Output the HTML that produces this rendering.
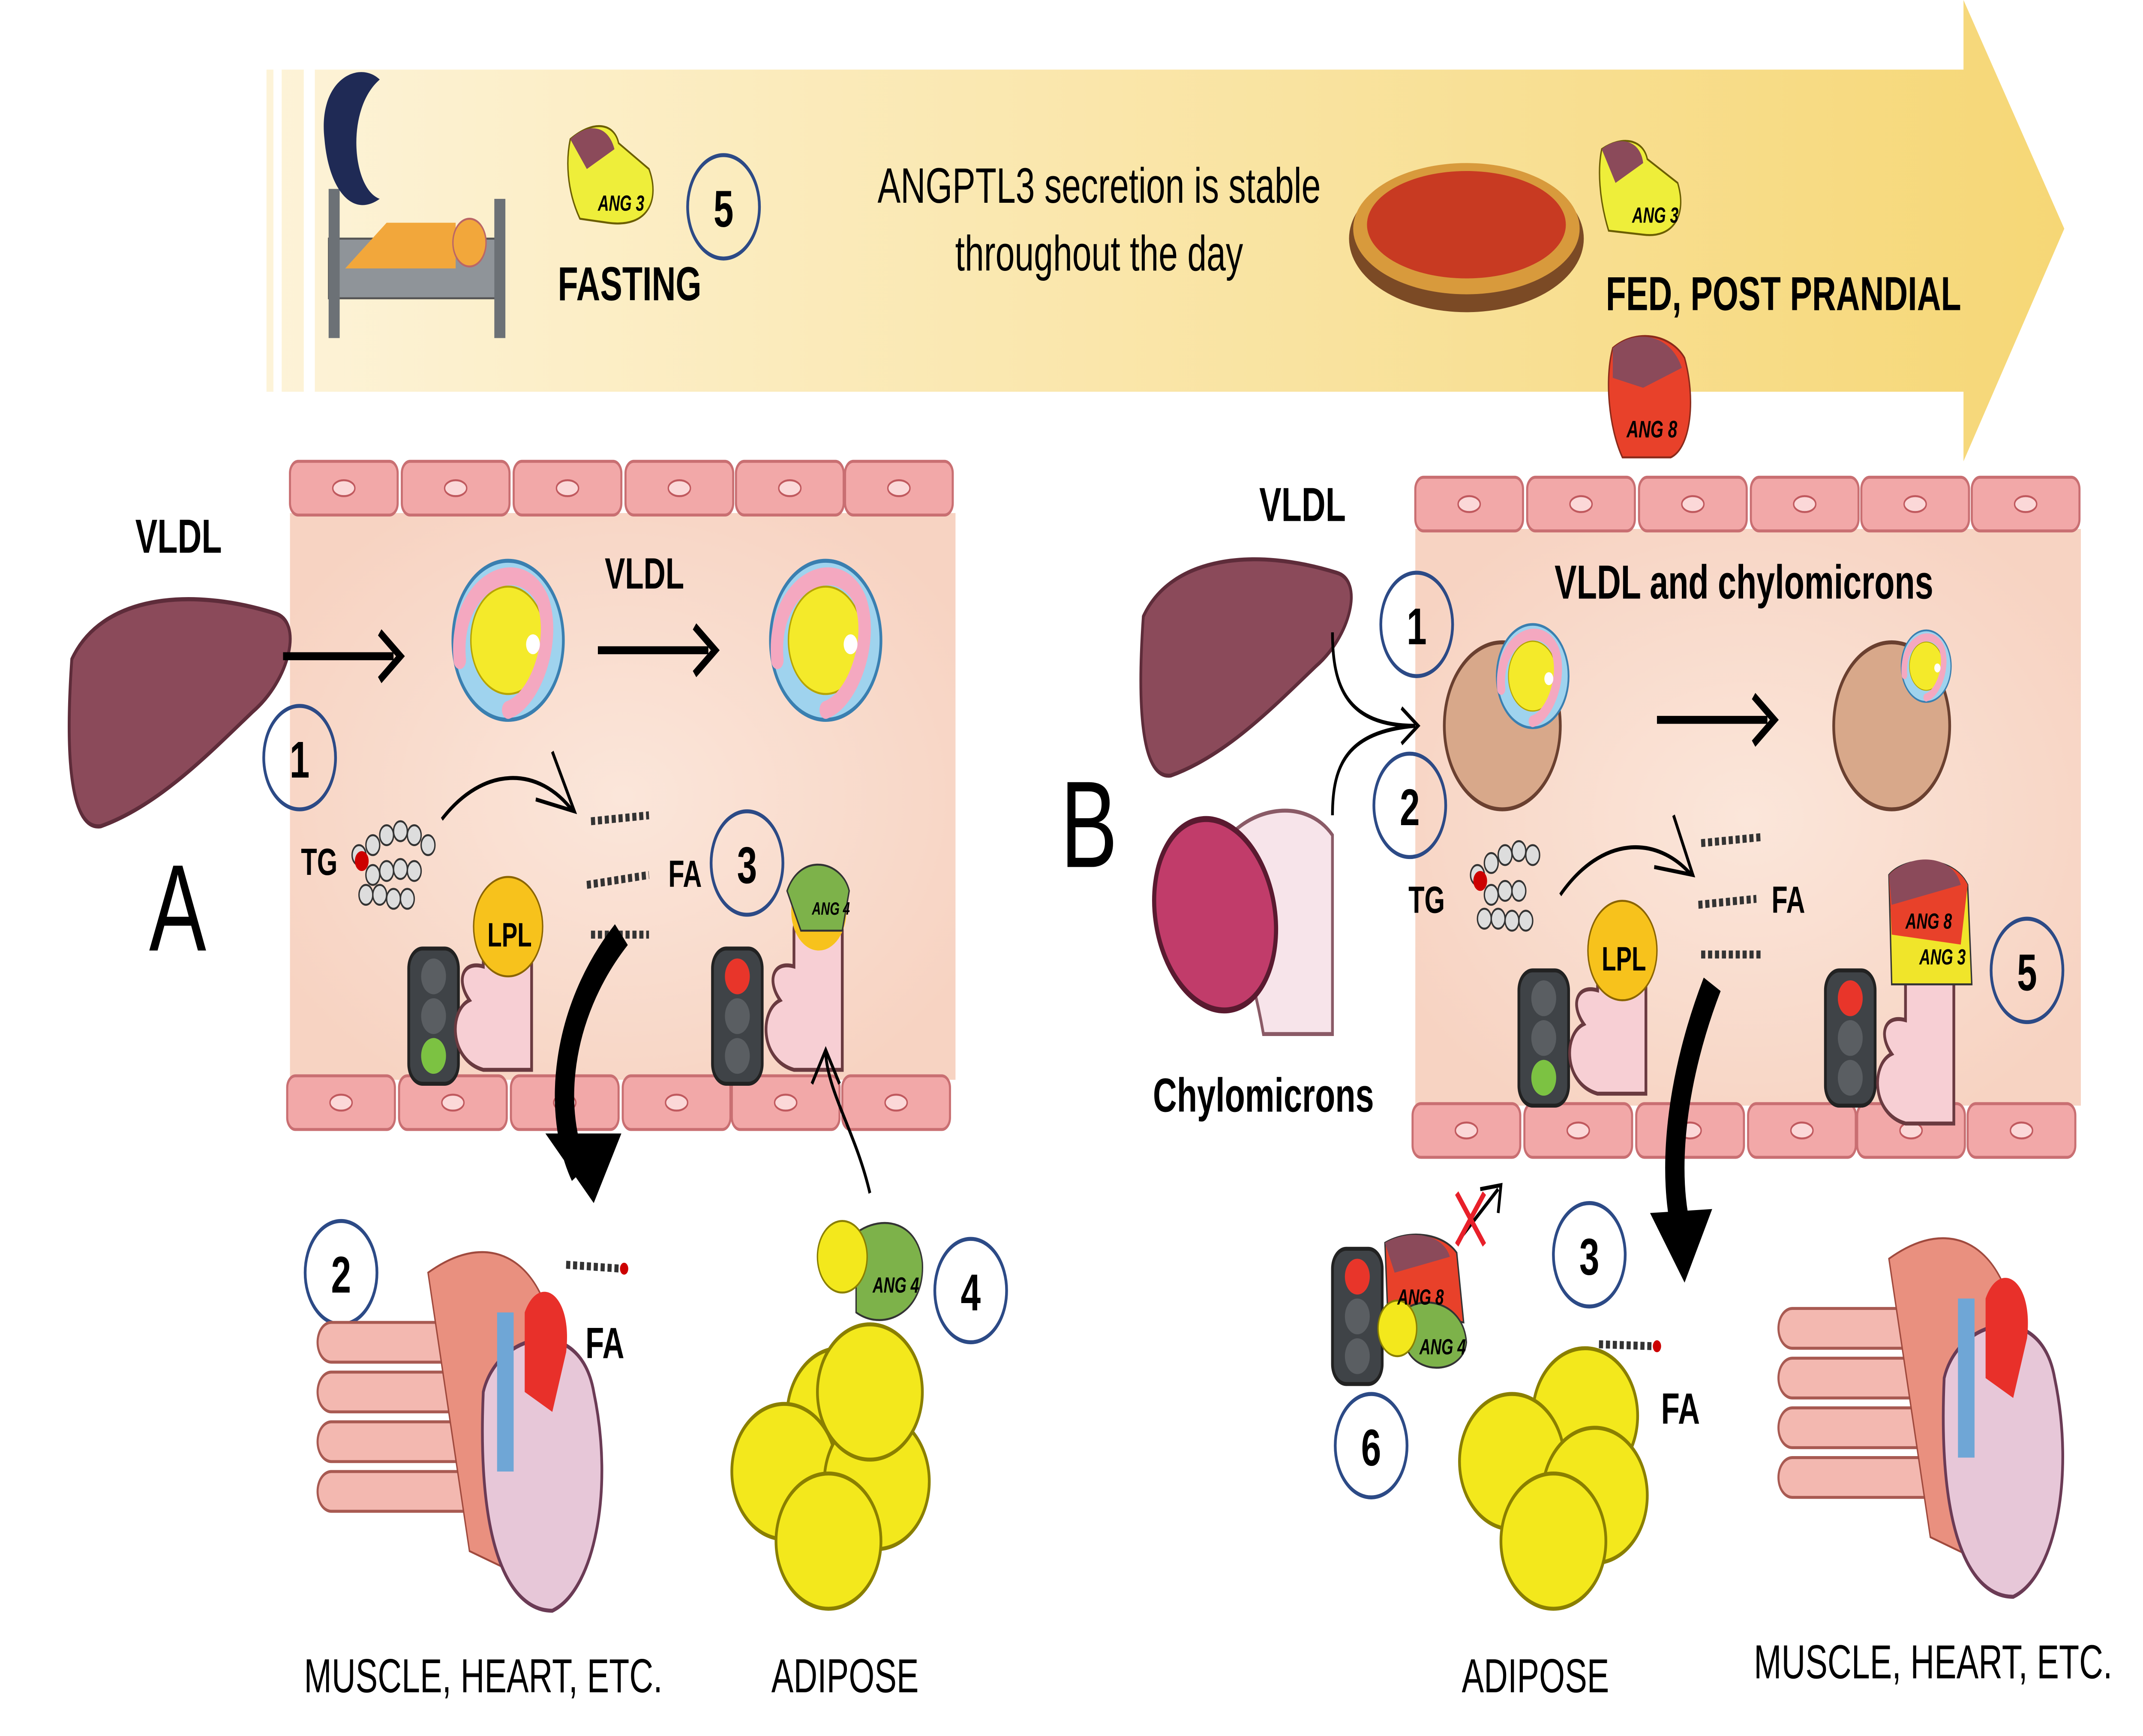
<!DOCTYPE html>
<html><head><meta charset="utf-8"><style>
html,body{margin:0;padding:0;background:#fff;width:100%;height:100%;overflow:hidden;}
svg{display:block;width:100vw;height:100vh;position:absolute;left:0;top:0;}
text{font-family:"Liberation Sans",sans-serif;}
</style></head><body>
<svg viewBox="0 0 1552 873" preserveAspectRatio="none" xmlns="http://www.w3.org/2000/svg">
<defs>
<linearGradient id="ban" x1="0" x2="1" y1="0" y2="0">
<stop offset="0" stop-color="#fdf3d8"/><stop offset="1" stop-color="#f6d776"/></linearGradient>
<radialGradient id="ves" cx="0.5" cy="0.5" r="0.6"><stop offset="0" stop-color="#fbe6da"/><stop offset="1" stop-color="#f7d3c2"/></radialGradient>
<g id="cell"><rect x="0" y="0" width="78" height="27" rx="6" fill="#f2a8a8" stroke="#c96f72" stroke-width="1.5"/><ellipse cx="39" cy="13.5" rx="8" ry="4" fill="#fbd8d8" stroke="#c0595e"/></g>
<g id="liver"><path d="M0,30 C20,0 80,-5 140,8 C160,12 150,40 125,55 C95,75 60,100 20,110 C0,112 -5,80 0,30Z" fill="#8b4a5a" stroke="#5e2c3a" stroke-width="2"/></g>
<g id="lipo"><circle r="40" fill="#9fd3ee" stroke="#3a7fb0" stroke-width="2"/><circle r="27" fill="#f4ea2a" stroke="#b6a400"/><path d="M-35,10 C-40,-30 10,-45 25,-20 C35,0 20,30 0,35" fill="none" stroke="#f4a8c0" stroke-width="9" stroke-linecap="round"/><circle cx="18" cy="2" r="5" fill="#fff"/></g>
<g id="light"><rect x="0" y="0" width="36" height="68" rx="10" fill="#3f4347" stroke="#222" stroke-width="2"/><circle cx="18" cy="14" r="9" fill="#5a5e62"/><circle cx="18" cy="34" r="9" fill="#5a5e62"/><circle cx="18" cy="54" r="9" fill="#5a5e62"/></g>
<g id="lpl"><path d="M-5,90 C-30,85 -30,60 -15,55 C-25,45 -20,35 -5,38 L-5,20 C-5,5 30,5 30,20 L30,90 Z" fill="#f7cfd4" stroke="#6a3a40" stroke-width="2"/></g>
<g id="adip"><ellipse cx="0" cy="0" rx="38" ry="34" fill="#f3e81c" stroke="#8a7f00" stroke-width="2"/></g>
<g id="muscle"><g fill="#f3b8b0" stroke="#a85a52" stroke-width="1.5">
<rect x="0" y="25" width="120" height="20" rx="10"/><rect x="0" y="50" width="120" height="20" rx="10"/><rect x="0" y="75" width="120" height="20" rx="10"/><rect x="0" y="100" width="120" height="20" rx="10"/></g>
<path d="M80,0 C140,-30 180,10 170,60 L140,150 L110,140 Z" fill="#e9907f" stroke="#a04a3e"/>
<path d="M120,60 C130,30 190,20 200,60 C215,110 200,160 170,170 C140,170 115,140 120,60Z" fill="#e7c7d8" stroke="#6b3b55" stroke-width="2"/>
<path d="M150,20 C160,0 185,10 180,40 L170,70 L150,60Z" fill="#e8302a"/><rect x="130" y="20" width="12" height="80" fill="#6fa6d6"/></g>
</defs>

<path d="M193,35 L1422,35 L1422,0 L1495,115 L1422,232 L1422,197 L193,197 Z" fill="url(#ban)"/>
<rect x="198" y="35" width="6" height="162" fill="#fff"/><rect x="220" y="35" width="8" height="162" fill="#fff"/>
<rect x="238" y="120" width="125" height="30" fill="#8f9499" stroke="#555"/><rect x="238" y="95" width="8" height="75" fill="#6c7176"/><rect x="358" y="100" width="8" height="70" fill="#6c7176"/>
<path d="M250,135 L280,112 L330,112 L330,135Z" fill="#f2a73b"/><circle cx="340" cy="122" r="12" fill="#f2a73b" stroke="#b66"/>
<path d="M235,70 C230,40 260,30 275,40 C250,55 255,95 275,100 C255,110 238,95 235,70Z" fill="#1f2a55"/>
<path d="M413,70 C430,60 445,62 448,72 L470,85 C478,100 470,115 440,112 L420,110 C410,95 410,80 413,70Z" fill="#eeee3a" stroke="#6b5e00"/>
<path d="M413,70 C425,62 440,62 445,75 L425,85Z" fill="#8b4a5a"/><text x="433" y="106" font-size="11" font-style="italic" font-weight="bold">ANG 3</text>
<circle cx="524" cy="104" r="26" fill="none" stroke="#2c4a86" stroke-width="2"/><text x="524" y="114" font-size="26" font-weight="bold" text-anchor="middle">5</text>
<text x="404" y="151" font-size="24" font-weight="bold">FASTING</text>
<text x="796" y="102" font-size="25" text-anchor="middle">ANGPTL3 secretion is stable</text>
<text x="796" y="136" font-size="25" text-anchor="middle">throughout the day</text>
<ellipse cx="1062" cy="120" rx="85" ry="37" fill="#7b4a25"/><ellipse cx="1062" cy="115" rx="82" ry="33" fill="#d89a3c"/><ellipse cx="1062" cy="113" rx="72" ry="27" fill="#c83a22"/>
<path d="M1160,75 C1175,68 1190,70 1193,80 L1215,92 C1222,108 1212,120 1190,118 L1165,116 C1158,100 1157,85 1160,75Z" fill="#eeee3a" stroke="#6b5e00"/>
<path d="M1160,75 C1172,68 1188,70 1190,82 L1170,92Z" fill="#8b4a5a"/><text x="1182" y="112" font-size="11" font-style="italic" font-weight="bold">ANG 3</text>
<text x="1163" y="156" font-size="24" font-weight="bold">FED, POST PRANDIAL</text>
<path d="M1168,175 C1185,165 1210,168 1220,180 C1228,200 1225,225 1210,230 L1175,230 C1165,215 1162,190 1168,175Z" fill="#e8412a" stroke="#8a2a1a"/>
<path d="M1168,175 C1185,165 1210,168 1218,185 L1190,195 L1168,190Z" fill="#8b4a5a"/><text x="1178" y="220" font-size="12" font-style="italic" font-weight="bold">ANG 8</text>

<rect x="210" y="258" width="482" height="285" fill="url(#ves)"/>
<use href="#cell" x="210" y="232"/><use href="#cell" x="291" y="232"/><use href="#cell" x="372" y="232"/><use href="#cell" x="453" y="232"/><use href="#cell" x="533" y="232"/><use href="#cell" x="612" y="232"/>
<use href="#cell" x="208" y="541"/><use href="#cell" x="289" y="541"/><use href="#cell" x="370" y="541"/><use href="#cell" x="451" y="541"/><use href="#cell" x="530" y="541"/><use href="#cell" x="610" y="541"/>
<text x="98" y="278" font-size="24" font-weight="bold">VLDL</text>
<g transform="translate(52,300) scale(1.05)"><use href="#liver"/></g>
<text x="108" y="478" font-size="62">A</text>
<path d="M205,330 L285,330" stroke="#000" stroke-width="4"/><path d="M275,318 L290,330 L275,342" fill="none" stroke="#000" stroke-width="4"/>
<path d="M433,327 L513,327" stroke="#000" stroke-width="4"/><path d="M503,315 L518,327 L503,339" fill="none" stroke="#000" stroke-width="4"/>
<text x="438" y="296" font-size="22" font-weight="bold">VLDL</text>
<use href="#lipo" x="368" y="322"/><use href="#lipo" x="598" y="322"/>
<circle cx="217" cy="381" r="26" fill="none" stroke="#2c4a86" stroke-width="2"/><text x="217" y="391" font-size="26" font-weight="bold" text-anchor="middle">1</text>
<text x="218" y="440" font-size="19" font-weight="bold">TG</text>
<g fill="#ddd" stroke="#333" stroke-width="1"><circle cx="260" cy="430" r="5"/><circle cx="270" cy="425" r="5"/><circle cx="280" cy="420" r="5"/><circle cx="290" cy="418" r="5"/><circle cx="300" cy="420" r="5"/><circle cx="310" cy="425" r="5"/><circle cx="270" cy="440" r="5"/><circle cx="280" cy="438" r="5"/><circle cx="290" cy="437" r="5"/><circle cx="300" cy="438" r="5"/><circle cx="265" cy="450" r="5"/><circle cx="275" cy="450" r="5"/><circle cx="285" cy="452" r="5"/><circle cx="295" cy="452" r="5"/></g>
<circle cx="262" cy="433" r="5" fill="#c00"/>
<path d="M320,412 C350,385 390,385 415,408" fill="none" stroke="#000" stroke-width="2"/><path d="M400,378 L416,408 L388,402" fill="none" stroke="#000" stroke-width="2"/>
<g stroke="#333" stroke-width="4" stroke-dasharray="3 2"><path d="M428,413 L470,410"/><path d="M425,445 L470,440"/><path d="M428,470 L470,470"/></g>
<text x="484" y="446" font-size="19" font-weight="bold">FA</text>
<circle cx="541" cy="434" r="26" fill="none" stroke="#2c4a86" stroke-width="2"/><text x="541" y="444" font-size="26" font-weight="bold" text-anchor="middle">3</text>
<use href="#light" x="296" y="477"/><circle cx="314" cy="531" r="9" fill="#7cc242"/>
<g transform="translate(355,448)"><use href="#lpl"/><circle cx="13" cy="18" r="25" fill="#f7c21c" stroke="#8a6400"/><text x="-2" y="28" font-size="17" font-weight="bold">LPL</text></g>
<use href="#light" x="516" y="477"/><circle cx="534" cy="491" r="9" fill="#e8352a"/>
<g transform="translate(580,448)"><use href="#lpl"/><circle cx="13" cy="10" r="20" fill="#f7c21c"/><path d="M-10,0 C0,-20 30,-15 35,0 L30,20 L0,20Z" fill="#7db24a" stroke="#333"/><text x="8" y="12" font-size="9" font-style="italic" font-weight="bold">ANG 4</text></g>
<path d="M450,470 C405,510 400,560 420,590" fill="none" stroke="#000" stroke-width="14"/><path d="M395,570 L430,605 L450,570Z" fill="#000"/>
<path d="M630,600 C620,570 600,550 598,530" fill="none" stroke="#000" stroke-width="2"/><path d="M588,545 L598,528 L608,545" fill="none" stroke="#000" stroke-width="2"/>
<circle cx="247" cy="640" r="26" fill="none" stroke="#2c4a86" stroke-width="2"/><text x="247" y="650" font-size="26" font-weight="bold" text-anchor="middle">2</text>
<path d="M410,636 L450,638" stroke="#333" stroke-width="4" stroke-dasharray="3 2"/><circle cx="452" cy="638" r="3" fill="#c00"/>
<text x="424" y="683" font-size="22" font-weight="bold">FA</text>
<use href="#muscle" x="230" y="640"/>
<text x="350" y="851" font-size="24" text-anchor="middle">MUSCLE, HEART, ETC.</text>
<use href="#adip" x="608" y="712"/><use href="#adip" x="568" y="740"/><use href="#adip" x="635" y="745"/><use href="#adip" x="600" y="775"/><use href="#adip" x="630" y="700"/>
<path d="M620,620 C640,610 665,615 668,635 C670,660 640,670 620,660Z" fill="#7db24a" stroke="#333"/><circle cx="610" cy="632" r="18" fill="#f3e81c" stroke="#8a7f00"/><text x="632" y="650" font-size="11" font-style="italic" font-weight="bold">ANG 4</text>
<circle cx="703" cy="649" r="26" fill="none" stroke="#2c4a86" stroke-width="2"/><text x="703" y="659" font-size="26" font-weight="bold" text-anchor="middle">4</text>
<text x="612" y="851" font-size="24" text-anchor="middle">ADIPOSE</text>

<rect x="1025" y="266" width="482" height="290" fill="url(#ves)"/>
<use href="#cell" x="1025" y="240"/><use href="#cell" x="1106" y="240"/><use href="#cell" x="1187" y="240"/><use href="#cell" x="1268" y="240"/><use href="#cell" x="1348" y="240"/><use href="#cell" x="1428" y="240"/>
<use href="#cell" x="1023" y="555"/><use href="#cell" x="1104" y="555"/><use href="#cell" x="1185" y="555"/><use href="#cell" x="1266" y="555"/><use href="#cell" x="1345" y="555"/><use href="#cell" x="1425" y="555"/>
<text x="768" y="436" font-size="62">B</text>
<text x="912" y="262" font-size="24" font-weight="bold">VLDL</text>
<g transform="translate(828,280) scale(1.0)"><use href="#liver"/></g>
<path d="M880,430 C900,405 945,400 965,420 L965,520 L915,520 C905,480 890,460 880,430Z" fill="#f7e4ea" stroke="#8a5a66" stroke-width="2"/>
<ellipse cx="880" cy="460" rx="42" ry="50" transform="rotate(-30 880 460)" fill="#c13c6a" stroke="#5a1a30" stroke-width="3"/>
<text x="915" y="559" font-size="24" font-weight="bold" text-anchor="middle">Chylomicrons</text>
<path d="M965,318 C965,345 975,365 1025,365 M965,410 C965,385 975,368 1025,365" fill="none" stroke="#000" stroke-width="2"/><path d="M1015,356 L1027,365 L1015,374" fill="none" stroke="#000" stroke-width="2"/>
<circle cx="1026" cy="314" r="26" fill="none" stroke="#2c4a86" stroke-width="2"/><text x="1026" y="324" font-size="26" font-weight="bold" text-anchor="middle">1</text>
<circle cx="1021" cy="405" r="26" fill="none" stroke="#2c4a86" stroke-width="2"/><text x="1021" y="415" font-size="26" font-weight="bold" text-anchor="middle">2</text>
<text x="1263" y="301" font-size="24" font-weight="bold" text-anchor="middle">VLDL and chylomicrons</text>
<circle cx="1088" cy="365" r="42" fill="#d8a88a" stroke="#6a4030" stroke-width="2"/><g transform="translate(1110,340) scale(0.65)"><use href="#lipo"/></g>
<path d="M1200,362 L1280,362" stroke="#000" stroke-width="4"/><path d="M1270,350 L1285,362 L1270,374" fill="none" stroke="#000" stroke-width="4"/>
<circle cx="1370" cy="365" r="42" fill="#d8a88a" stroke="#6a4030" stroke-width="2"/><g transform="translate(1395,335) scale(0.45)"><use href="#lipo"/></g>
<text x="1020" y="459" font-size="19" font-weight="bold">TG</text>
<g fill="#ddd" stroke="#333" stroke-width="1"><circle cx="1070" cy="440" r="5"/><circle cx="1080" cy="434" r="5"/><circle cx="1090" cy="430" r="5"/><circle cx="1100" cy="428" r="5"/><circle cx="1110" cy="430" r="5"/><circle cx="1080" cy="450" r="5"/><circle cx="1090" cy="448" r="5"/><circle cx="1100" cy="448" r="5"/><circle cx="1075" cy="462" r="5"/><circle cx="1085" cy="462" r="5"/><circle cx="1095" cy="463" r="5"/><circle cx="1105" cy="463" r="5"/></g>
<circle cx="1072" cy="443" r="5" fill="#c00"/>
<path d="M1130,450 C1160,420 1200,420 1225,440" fill="none" stroke="#000" stroke-width="2"/><path d="M1212,410 L1226,440 L1198,436" fill="none" stroke="#000" stroke-width="2"/>
<g stroke="#333" stroke-width="4" stroke-dasharray="3 2"><path d="M1232,424 L1275,421"/><path d="M1230,455 L1272,452"/><path d="M1232,480 L1275,480"/></g>
<text x="1283" y="459" font-size="19" font-weight="bold">FA</text>
<use href="#light" x="1100" y="488"/><circle cx="1118" cy="542" r="9" fill="#7cc242"/>
<g transform="translate(1162,460)"><use href="#lpl"/><circle cx="13" cy="18" r="25" fill="#f7c21c" stroke="#8a6400"/><text x="-2" y="28" font-size="17" font-weight="bold">LPL</text></g>
<use href="#light" x="1322" y="488"/><circle cx="1340" cy="502" r="9" fill="#e8352a"/>
<g transform="translate(1385,475)"><use href="#lpl"/></g>
<path d="M1368,440 C1380,430 1415,430 1425,445 L1428,495 L1370,495Z" fill="#f0e52a" stroke="#333"/><path d="M1368,440 C1380,430 1415,430 1425,445 L1420,475 L1370,470Z" fill="#e8412a"/><path d="M1368,440 C1385,428 1415,430 1420,445 L1370,455Z" fill="#8b4a5a"/>
<text x="1380" y="467" font-size="11" font-style="italic" font-weight="bold">ANG 8</text><text x="1390" y="485" font-size="11" font-style="italic" font-weight="bold">ANG 3</text>
<circle cx="1468" cy="488" r="26" fill="none" stroke="#2c4a86" stroke-width="2"/><text x="1468" y="498" font-size="26" font-weight="bold" text-anchor="middle">5</text>
<path d="M1240,495 C1215,540 1205,590 1220,625" fill="none" stroke="#000" stroke-width="14"/><path d="M1195,610 L1220,645 L1240,608Z" fill="#000"/>
<use href="#light" x="965" y="628"/><circle cx="983" cy="642" r="9" fill="#e8352a"/>
<path d="M1003,625 C1020,618 1045,620 1055,630 L1060,665 L1005,660Z" fill="#e8412a" stroke="#333"/><path d="M1003,625 C1020,618 1045,620 1050,632 L1010,640Z" fill="#8b4a5a"/>
<path d="M1015,660 C1030,650 1060,655 1062,675 C1060,690 1030,692 1020,680Z" fill="#7db24a" stroke="#333"/><circle cx="1012" cy="668" r="14" fill="#f3e81c" stroke="#8a7f00"/>
<text x="1012" y="656" font-size="11" font-style="italic" font-weight="bold">ANG 8</text><text x="1028" y="681" font-size="11" font-style="italic" font-weight="bold">ANG 4</text>
<path d="M1055,625 L1085,598" stroke="#000" stroke-width="2"/><path d="M1072,598 L1087,596 L1085,610" fill="none" stroke="#000" stroke-width="2"/>
<path d="M1055,600 L1075,626 M1075,600 L1055,626" stroke="#e8202a" stroke-width="3"/>
<circle cx="1151" cy="631" r="26" fill="none" stroke="#2c4a86" stroke-width="2"/><text x="1151" y="641" font-size="26" font-weight="bold" text-anchor="middle">3</text>
<circle cx="993" cy="727" r="26" fill="none" stroke="#2c4a86" stroke-width="2"/><text x="993" y="737" font-size="26" font-weight="bold" text-anchor="middle">6</text>
<path d="M1158,676 L1198,677" stroke="#333" stroke-width="4" stroke-dasharray="3 2"/><circle cx="1200" cy="677" r="3" fill="#c00"/>
<text x="1203" y="716" font-size="22" font-weight="bold">FA</text>
<use href="#adip" x="1148" y="712"/><use href="#adip" x="1095" y="735"/><use href="#adip" x="1155" y="752"/><use href="#adip" x="1125" y="775"/>
<text x="1112" y="851" font-size="24" text-anchor="middle">ADIPOSE</text>
<use href="#muscle" x="1288" y="633"/>
<text x="1400" y="844" font-size="24" text-anchor="middle">MUSCLE, HEART, ETC.</text>
</svg>
</body></html>
